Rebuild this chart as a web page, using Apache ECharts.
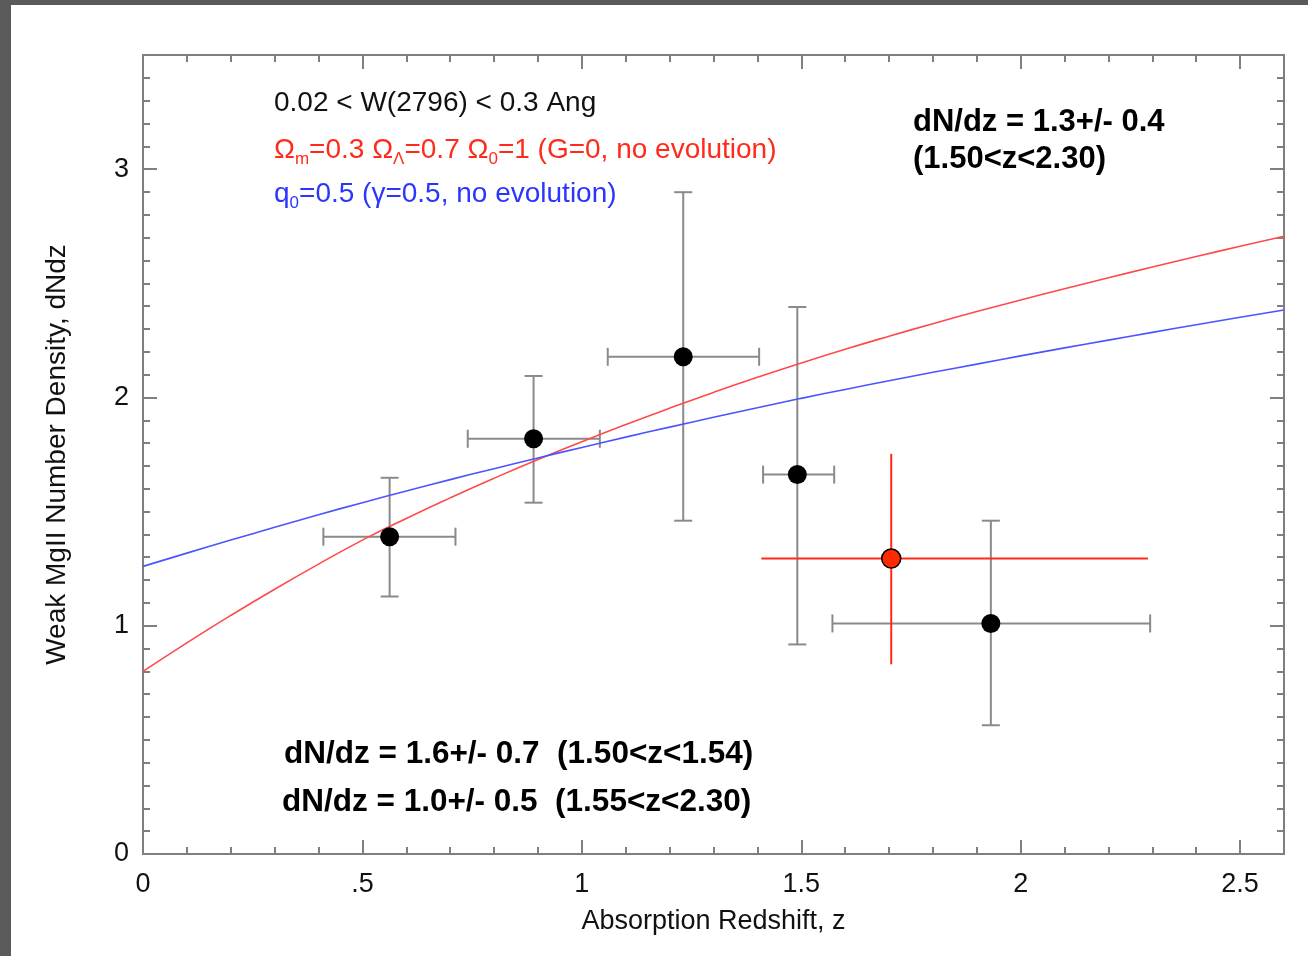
<!DOCTYPE html>
<html>
<head>
<meta charset="utf-8">
<script src="https://cdn.jsdelivr.net/npm/echarts@6/dist/echarts.min.js"></script>
<style>
html,body{margin:0;padding:0;background:#fff;}
#chart{width:1308px;height:956px;}
</style>
</head>
<body>
<div id="chart"></div>
<script>
// ---------------- data ----------------
const xTickValues = [0, 0.5, 1, 1.5, 2, 2.5];
const xTickLabels = ['0', '.5', '1', '1.5', '2', '2.5'];
const yTickValues = [0, 1, 2, 3];
const yTickLabels = ['0', '1', '2', '3'];

// black data points: z, dN/dz, zlo, zhi, ylo, yhi
const ptZ    = [0.562, 0.890, 1.231, 1.491, 1.932];
const ptY    = [1.39, 1.819, 2.178, 1.662, 1.010];
const ptZlo  = [0.411, 0.740, 1.059, 1.413, 1.571];
const ptZhi  = [0.712, 1.041, 1.404, 1.575, 2.295];
const ptYlo  = [1.128, 1.539, 1.460, 0.918, 0.564];
const ptYhi  = [1.648, 2.094, 2.899, 2.396, 1.460];

// red data point
const redZ = [1.705], redY = [1.294];
const redZlo = [1.409], redZhi = [2.290];
const redYlo = [0.831], redYhi = [1.753];

// model curves
const curveZ = [0,0.1,0.2,0.3,0.4,0.5,0.6,0.7,0.8,0.9,1.0,1.1,1.2,1.3,1.4,1.5,1.6,1.7,1.8,1.9,2.0,2.1,2.2,2.3,2.4,2.5,2.6];
const redCurve = [0.80,0.925,1.045,1.16,1.27,1.375,1.47,1.56,1.646,1.728,1.806,1.881,1.953,2.022,2.088,2.151,2.211,2.268,2.323,2.376,2.427,2.476,2.524,2.571,2.617,2.662,2.706];
const blueCurve = [1.26,1.318,1.375,1.431,1.486,1.539,1.590,1.640,1.688,1.735,1.781,1.826,1.870,1.913,1.955,1.996,2.035,2.073,2.110,2.146,2.182,2.217,2.251,2.285,2.318,2.351,2.383];

// annotation text
const label1 = '0.02 < W(2796) < 0.3 Ang';
const labelRed = '{a|Ω}{s|m}{a|=0.3 Ω}{s|Λ}{a|=0.7 Ω}{s|0}{a|=1 (G=0, no evolution)}';
const labelBlue = '{a|q}{s|0}{a|=0.5 (γ=0.5, no evolution)}';
const boldTop = ['dN/dz = 1.3+/- 0.4', '(1.50<z<2.30)'];
const boldBottom = ['dN/dz = 1.6+/- 0.7  (1.50<z<1.54)', 'dN/dz = 1.0+/- 0.5  (1.55<z<2.30)'];
const xTitle = 'Absorption Redshift, z';
const yTitle = 'Weak MgII Number Density, dNdz';

// ---------------- chart ----------------
const FONT = '"Liberation Sans", Arial, Helvetica, sans-serif';
const AX = '#7f7f7f';
const XMIN = 0, XMAX = 2.6, YMIN = 0, YMAX = 3.5;

function fmtX(v){
  const i = xTickValues.findIndex(t => Math.abs(t - v) < 1e-6);
  return i >= 0 ? xTickLabels[i] : '';
}
function fmtY(v){
  const i = yTickValues.findIndex(t => Math.abs(t - v) < 1e-6);
  return i >= 0 ? yTickLabels[i] : '';
}

function axisBase(extra){
  return Object.assign({
    type: 'value',
    splitLine: {show: false},
    axisLine: {show: true, onZero: false, lineStyle: {color: AX, width: 2}},
    axisLabel: {show: false},
    axisTick: {show: true, inside: true, length: 14, lineStyle: {color: AX, width: 2}}
  }, extra);
}
const minorTick = {show: true, inside: true, length: 7, lineStyle: {color: AX, width: 2}};

const xAxes = [
  axisBase({position: 'bottom', min: XMIN, max: XMAX, interval: 0.5,
    axisLabel: {show: true, formatter: fmtX, fontSize: 27, color: '#111', fontFamily: FONT, margin: 17},
    name: xTitle, nameLocation: 'middle', nameGap: 54,
    nameTextStyle: {fontSize: 27, color: '#111', fontFamily: FONT}}),
  axisBase({position: 'bottom', min: XMIN, max: XMAX, interval: 0.1, axisTick: minorTick}),
  axisBase({position: 'top', min: XMIN, max: XMAX, interval: 0.5}),
  axisBase({position: 'top', min: XMIN, max: XMAX, interval: 0.1, axisTick: minorTick})
];
const yAxes = [
  axisBase({position: 'left', min: YMIN, max: YMAX, interval: 1,
    axisLabel: {show: true, formatter: fmtY, fontSize: 27, color: '#111', fontFamily: FONT, margin: 14},
    name: yTitle, nameLocation: 'middle', nameGap: 72,
    nameTextStyle: {fontSize: 28, color: '#111', fontFamily: FONT}}),
  axisBase({position: 'left', min: YMIN, max: YMAX, interval: 0.1, axisTick: minorTick}),
  axisBase({position: 'right', min: YMIN, max: YMAX, interval: 1}),
  axisBase({position: 'right', min: YMIN, max: YMAX, interval: 0.1, axisTick: minorTick})
];

function errData(z, y, zlo, zhi, ylo, yhi){
  return z.map((v, i) => [v, y[i], zlo[i], zhi[i], ylo[i], yhi[i]]);
}
function errRender(color, cap){
  return function(params, api){
    const z = api.value(0), y = api.value(1);
    const pL = api.coord([api.value(2), y]);
    const pR = api.coord([api.value(3), y]);
    const pB = api.coord([z, api.value(4)]);
    const pT = api.coord([z, api.value(5)]);
    const st = {stroke: color, lineWidth: 2};
    const ch = [
      {type: 'line', shape: {x1: pL[0], y1: pL[1], x2: pR[0], y2: pR[1]}, style: st},
      {type: 'line', shape: {x1: pB[0], y1: pB[1], x2: pT[0], y2: pT[1]}, style: st}
    ];
    if (cap) {
      ch.push({type: 'line', shape: {x1: pL[0], y1: pL[1]-cap, x2: pL[0], y2: pL[1]+cap}, style: st});
      ch.push({type: 'line', shape: {x1: pR[0], y1: pR[1]-cap, x2: pR[0], y2: pR[1]+cap}, style: st});
      ch.push({type: 'line', shape: {x1: pB[0]-cap, y1: pB[1], x2: pB[0]+cap, y2: pB[1]}, style: st});
      ch.push({type: 'line', shape: {x1: pT[0]-cap, y1: pT[1], x2: pT[0]+cap, y2: pT[1]}, style: st});
    }
    return {type: 'group', children: ch};
  };
}

function richFor(color){
  return {
    a: {fontSize: 28, fontFamily: FONT, lineHeight: 36, verticalAlign: 'middle', color: color},
    s: {fontSize: 17, fontFamily: FONT, lineHeight: 36, verticalAlign: 'bottom', color: color}
  };
}

function txt(x, y, text, opts){
  return {
    type: 'text', x: x, y: y, z: 100,
    style: Object.assign({
      text: text, fontSize: 28, fontFamily: FONT, fill: '#111',
      align: 'left', verticalAlign: 'middle',
      textAlign: 'left', textVerticalAlign: 'middle'
    }, opts || {})
  };
}
const boldOpts = {fontWeight: 'bold', fontSize: 31, fill: '#000'};

const option = {
  backgroundColor: '#ffffff',
  animation: false,
  grid: {left: 143, top: 55, right: 24, bottom: 102, containLabel: false},
  xAxis: xAxes,
  yAxis: yAxes,
  graphic: [
    {type: 'rect', shape: {x: 0, y: 0, width: 11, height: 956}, style: {fill: '#5a5a5a'}, z: 100},
    {type: 'rect', shape: {x: 0, y: 0, width: 1308, height: 5}, style: {fill: '#5a5a5a'}, z: 100},
    txt(274, 103, label1),
    txt(274, 150, labelRed, {rich: richFor('#ff2a1a'), fill: '#ff2a1a'}),
    txt(274, 194, labelBlue, {rich: richFor('#2a35ff'), fill: '#2a35ff'}),
    txt(913, 122, boldTop[0], boldOpts),
    txt(913, 159, boldTop[1], boldOpts),
    txt(284, 754, boldBottom[0], Object.assign({}, boldOpts, {fontSize: 31.5})),
    txt(282, 802, boldBottom[1], Object.assign({}, boldOpts, {fontSize: 31.5}))
  ],
  series: [
    {
      type: 'line', name: 'LCDM', data: curveZ.map((z, i) => [z, redCurve[i]]),
      smooth: true, symbol: 'none', lineStyle: {color: '#ff4a4a', width: 1.6}, z: 3
    },
    {
      type: 'line', name: 'q0', data: curveZ.map((z, i) => [z, blueCurve[i]]),
      smooth: true, symbol: 'none', lineStyle: {color: '#4a55ff', width: 1.6}, z: 3
    },
    {
      type: 'custom', name: 'err', data: errData(ptZ, ptY, ptZlo, ptZhi, ptYlo, ptYhi),
      renderItem: errRender('#8a8a8a', 9), encode: {x: [0, 2, 3], y: [1, 4, 5]}, z: 2
    },
    {
      type: 'custom', name: 'errRed', data: errData(redZ, redY, redZlo, redZhi, redYlo, redYhi),
      renderItem: errRender('#ff2a1a', 0), encode: {x: [0, 2, 3], y: [1, 4, 5]}, z: 2
    },
    {
      type: 'scatter', name: 'pts', data: ptZ.map((z, i) => [z, ptY[i]]),
      symbol: 'circle', symbolSize: 19, itemStyle: {color: '#000', opacity: 1}, z: 5
    },
    {
      type: 'scatter', name: 'red', data: redZ.map((z, i) => [z, redY[i]]),
      symbol: 'circle', symbolSize: 19, itemStyle: {color: '#ff2a00', borderColor: '#000', borderWidth: 1.5, opacity: 1}, z: 6
    }
  ]
};

const chart = echarts.init(document.getElementById('chart'), null, {renderer: 'canvas'});
chart.setOption(option);
</script>
</body>
</html>
